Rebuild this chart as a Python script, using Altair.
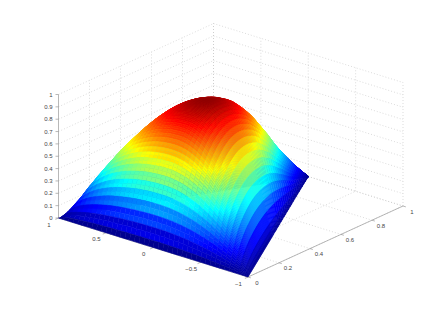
import altair as alt

# Surface: one profile along y, one across the (triangular) domain
row_y = [0,.0125,.025,.0375,.05,.0625,.075,.0875,.1,.1125,.125,.1375,.15,.1625,.175,.1875,.2,.2125,.225,.2375,
         .25,.2625,.275,.2875,.3,.3125,.325,.3375,.35,.3625,.375,.3875,.4,.425,.45,.475,.5,.55,.6,.65,.7,.75,.8,.85,.9,.95,1]
row_peak = [0,.10,.19,.28,.36,.43,.50,.56,.61,.655,.695,.73,.765,.795,.82,.845,.865,.885,.905,.92,
            .935,.948,.958,.967,.975,.98,.984,.986,.986,.985,.983,.98,.975,.965,.945,.925,.90,.83,.75,.65,.55,.44,.34,.25,.16,.08,0]
col_s = [-1,-.99,-.975,-.95,-.9,-.85,-.8,-.75,-.7,-.65,-.6,-.55,-.5,-.45,-.4,-.35,-.3,-.25,-.2,-.15,-.1,-.05,0,
         .05,.1,.15,.2,.25,.3,.35,.4,.45,.5,.55,.6,.65,.7,.75,.8,.85,.9,.95,.975,.99,1]
col_shape = [0,.0199,.0494,.0975,.19,.2775,.36,.4375,.51,.5775,.64,.6975,.75,.7975,.84,.8775,.91,.9375,.96,.9775,.99,.9975,1,
             .9987,.995,.9887,.9798,.9682,.9539,.9367,.9165,.893,.866,.8352,.8,.76,.7141,.6614,.6,.5268,.4359,.3122,.2222,.1411,0]
jet_stops = [0,.125,.375,.625,.875,1]
jet_colors = ["#00008f","#0000ff","#00ffff","#ffff00","#ff0000","#800000"]

x_ticks = [1,.5,0,-.5,-1]
x_labels = ["1","0.5","0","\u22120.5","\u22121"]
y_ticks = [0,.2,.4,.6,.8,1]
y_labels = ["0","0.2","0.4","0.6","0.8","1"]
z_ticks = [0,.1,.2,.3,.4,.5,.6,.7,.8,.9,1]
z_labels = ["0","0.1","0.2","0.3","0.4","0.5","0.6","0.7","0.8","0.9","1"]


def project(x, y, z):
    a = (x + 1) / 2
    return 248 - 189.5 * a + 155 * y, 277 - 59 * a - 71 * y - 123.5 * z


def clamp01(v):
    return max(0.0, min(1.0, v))


# --- surface cells, far to near ---
sub_rows = [(0, .5, -.25), (.5, 1, 1.0)]
cells = []
for i in range(len(row_y) - 1):
    for t0, t1, w in sub_rows:
        y0 = row_y[i] + t0 * (row_y[i + 1] - row_y[i])
        y1 = row_y[i] + t1 * (row_y[i + 1] - row_y[i])
        p0 = row_peak[i] + t0 * (row_peak[i + 1] - row_peak[i])
        p1 = row_peak[i] + t1 * (row_peak[i + 1] - row_peak[i])
        for j in range(len(col_s) - 1):
            corners = [(y0, p0, j), (y0, p0, j + 1), (y1, p1, j + 1), (y1, p1, j)]
            ring = []
            for yy, pp, k in corners:
                px, py = project(col_s[k] * (1 - yy), yy, pp * col_shape[k])
                ring.append([round(px, 2), round(py, 2)])
            ring.append(ring[0])
            sm = (col_s[j] + col_s[j + 1]) / 2
            fade = clamp01((sm + .85) / .8) * clamp01((.3 - y0) / .2)
            ww = (t0 + t1) / 2 + (w - (t0 + t1) / 2) * fade
            pc = row_peak[i] + ww * (row_peak[i + 1] - row_peak[i])
            c = pc * (col_shape[j] + col_shape[j + 1]) / 2
            depth = project(sm * (1 - y0), y0, 0)[1]
            cells.append((depth, {"type": "Feature", "properties": {"c": round(max(c, 0), 4)},
                                  "geometry": {"type": "Polygon", "coordinates": [ring]}}))
cells.sort(key=lambda t: t[0])
features = [f for _, f in cells]


def seg(p, q):
    return {"x": p[0], "y": p[1], "x2": q[0], "y2": q[1]}


grid, solid = [], []
for z in z_ticks:
    grid.append(seg(project(1, 0, z), project(1, 1, z)))
    grid.append(seg(project(1, 1, z), project(-1, 1, z)))
    a = project(1, 0, z)
    solid.append(seg((a[0] - 3, a[1]), a))
for y in y_ticks:
    if y > 0:
        grid.append(seg(project(1, y, 0), project(1, y, 1)))
    grid.append(seg(project(1, y, 0), project(-1, y, 0)))
    solid.append(seg(project(-1, y, 0), project(-1.03, y, 0)))
for x in x_ticks:
    grid.append(seg(project(x, 1, 0), project(x, 1, 1)))
    grid.append(seg(project(x, 0, 0), project(x, 1, 0)))
    solid.append(seg(project(x, 0, 0), project(x, -.02, 0)))
solid.append(seg(project(1, 0, 0), project(1, 0, 1)))
solid.append(seg(project(-1, 0, 0), project(-1, 1, 0)))
solid.append(seg(project(-1, 0, 0), project(1, 0, 0)))

labels = []
for v, s in zip(x_ticks, x_labels):
    p = project(v, 0, 0)
    labels.append({"x": p[0] - 9.5, "y": p[1] + 6.5, "t": s, "a": "center"})
for v, s in zip(y_ticks, y_labels):
    p = project(-1, v, 0)
    labels.append({"x": p[0] + 9, "y": p[1] + 5.5, "t": s, "a": "center"})
for v, s in zip(z_ticks, z_labels):
    p = project(1, 0, v)
    labels.append({"x": p[0] - 6, "y": p[1], "t": s, "a": "right"})

W, H = 430, 296
xs = alt.Scale(domain=[8, 8 + W], range=[0, W])
ys = alt.Scale(domain=[8, 8 + H], range=[0, H])


def rules(rows, **kw):
    return alt.Chart(alt.Data(values=rows)).mark_rule(**kw).encode(
        x=alt.X("x:Q", scale=xs, axis=None), y=alt.Y("y:Q", scale=ys, axis=None),
        x2="x2:Q", y2="y2:Q")


color_scale = alt.Scale(domain=jet_stops, range=jet_colors, interpolate="rgb", clamp=True)
surface = alt.Chart(alt.Data(values=features)).mark_geoshape(strokeWidth=0.5, filled=True).encode(
    fill=alt.Fill("properties.c:Q", scale=color_scale, legend=None),
    stroke=alt.Stroke("properties.c:Q", scale=color_scale, legend=None),
).project(type="identity", scale=1, translate=[-8, -8])

left = [r for r in labels if r["a"] == "right"]
mid = [r for r in labels if r["a"] == "center"]


def texts(rows, align):
    return alt.Chart(alt.Data(values=rows)).mark_text(
        align=align, baseline="middle", font="Liberation Sans", fontSize=6, color="#444444"
    ).encode(x=alt.X("x:Q", scale=xs, axis=None), y=alt.Y("y:Q", scale=ys, axis=None), text="t:N")


chart = alt.layer(
    rules(grid, color="#c4c4c4", strokeWidth=0.6, strokeDash=[1, 2]),
    rules(solid, color="#999999", strokeWidth=0.7),
    surface,
    texts(left, "right"),
    texts(mid, "center"),
).properties(width=W, height=H, padding=0, autosize=alt.AutoSizeParams(type="none"), background="white"
).configure_view(stroke=None)

chart.save("out.html", embed_options={"renderer": "svg", "actions": False})
